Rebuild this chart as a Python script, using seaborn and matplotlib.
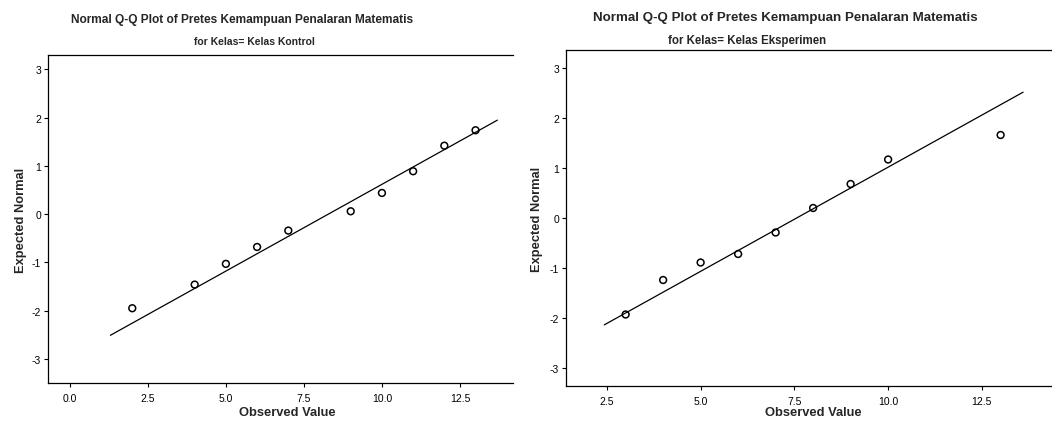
import matplotlib
matplotlib.use("Agg")
import matplotlib.pyplot as plt
import seaborn as sns
import numpy as np
import pandas as pd

# ---- data ----
title_main = "Normal Q-Q Plot of Pretes Kemampuan Penalaran Matematis"
subtitle_left = "for Kelas= Kelas Kontrol"
subtitle_right = "for Kelas= Kelas Eksperimen"

kontrol_obs = [2, 4, 5, 6, 7, 9, 10, 11, 12, 13]
kontrol_exp = [-1.95, -1.46, -1.03, -0.68, -0.34, 0.06, 0.44, 0.89, 1.42, 1.74]
kontrol_mean, kontrol_sd = 8.28, 2.78
kontrol_line_x = [1.3, 13.7]

eksperimen_obs = [3, 4, 5, 6, 7, 8, 9, 10, 13]
eksperimen_exp = [-1.93, -1.24, -0.89, -0.72, -0.29, 0.20, 0.68, 1.17, 1.66]
eksperimen_mean, eksperimen_sd = 7.56, 2.40
eksperimen_line_x = [2.43, 13.6]

x_ticks = [0.0, 2.5, 5.0, 7.5, 10.0, 12.5]
y_ticks = [-3, -2, -1, 0, 1, 2, 3]

sns.set_style("white")
plt.rcParams["font.family"] = ["Liberation Sans", "DejaVu Sans"]
plt.rcParams["axes.unicode_minus"] = False

W, H = 1052, 427
fig = plt.figure(figsize=(W / 100, H / 100), dpi=100)

def px_axes(x0, y0, x1, y1):
    return fig.add_axes([x0 / W, 1 - y1 / H, (x1 - x0) / W, (y1 - y0) / H])

axL = px_axes(48, 56, 513, 384)
axR = px_axes(566, 51, 1052, 387)

def draw(ax, obs, exp, mean, sd, lx, xlim, ylim, xticks):
    df = pd.DataFrame({"obs": obs, "exp": exp})
    lxa = np.array(lx, dtype=float)
    ldf = pd.DataFrame({"x": lxa, "y": (lxa - mean) / sd})
    sns.lineplot(data=ldf, x="x", y="y", ax=ax, color="black", linewidth=0.9)
    sns.scatterplot(data=df, x="obs", y="exp", ax=ax, marker="o", s=24,
                    facecolor="none", edgecolor="black", linewidth=1.1, zorder=3)
    ax.set_xlim(*xlim)
    ax.set_ylim(*ylim)
    ax.set_xticks(xticks)
    ax.set_xticklabels([f"{t:.1f}" for t in xticks])
    ax.set_yticks(y_ticks)
    ax.set_yticklabels([str(t) for t in y_ticks])
    ax.tick_params(axis="both", direction="out", length=3, width=0.8,
                   labelsize=7.5, colors="black", pad=2)
    ax.tick_params(axis="x", bottom=True, top=False, pad=4)
    ax.tick_params(axis="y", left=True, right=False)
    for side in ["left", "bottom", "top"]:
        ax.spines[side].set_visible(True)
        ax.spines[side].set_color("black")
        ax.spines[side].set_linewidth(0.9)
    ax.spines["right"].set_visible(False)
    ax.set_xlabel("Observed Value", fontsize=9.3, fontweight="bold")
    ax.set_ylabel("Expected Normal", fontsize=9.3, fontweight="bold")

draw(axL, kontrol_obs, kontrol_exp, kontrol_mean, kontrol_sd, kontrol_line_x,
     (-0.7, 14.2), (-3.5, 3.3), x_ticks)
draw(axR, eksperimen_obs, eksperimen_exp, eksperimen_mean, eksperimen_sd,
     eksperimen_line_x, (1.41, 14.37), (-3.36, 3.36), x_ticks[1:])

axL.xaxis.set_label_coords((287 - 48) / 465, (384 - 407) / 328)
axL.yaxis.set_label_coords((27 - 48) / 465, 0.5)
axR.xaxis.set_label_coords((813 - 566) / 486, (387 - 407) / 336)
axR.yaxis.set_label_coords((543 - 566) / 486, 0.5)

fig.text(242 / W, 1 - 20 / H, title_main, ha="center", va="center",
         fontsize=8.6, fontweight="bold")
fig.text(254 / W, 1 - 42 / H, subtitle_left, ha="center", va="center",
         fontsize=7.5, fontweight="bold")
fig.text(785 / W, 1 - 18 / H, title_main, ha="center", va="center",
         fontsize=9.6, fontweight="bold")
fig.text(747 / W, 1 - 41 / H, subtitle_right, ha="center", va="center",
         fontsize=8.3, fontweight="bold")

fig.savefig("out.png", dpi=100, facecolor="white")
